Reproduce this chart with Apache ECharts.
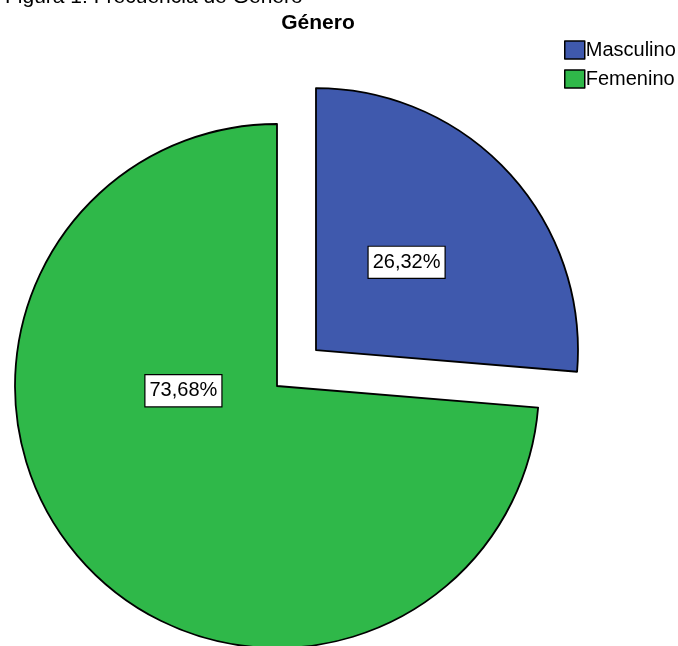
<!DOCTYPE html>
<html><head><meta charset="utf-8">
<script src="https://cdn.jsdelivr.net/npm/echarts@6/dist/echarts.min.js"></script>
<style>html,body{margin:0;padding:0;background:#fff}#c{width:678px;height:646px}</style>
</head><body><div id="c"></div>
<script>
const categories = ['Masculino', 'Femenino'];
const counts = [5, 14];
const colors = ['#3F59AD', '#2FB849'];
const labelOffsets = [[-8, 3], [5, -86]];

const chart = echarts.init(document.getElementById('c'));
chart.setOption({
  animation: false,
  title: [
    { text: 'Figura 1: Frecuencia de Género', left: 0, top: -18,
      textStyle: { fontFamily: 'Liberation Sans', fontSize: 21, fontWeight: 'normal', color: '#000' } },
    { text: 'Género', left: 313, textAlign: 'center', top: 8,
      textStyle: { fontFamily: 'Liberation Sans', fontSize: 21, fontWeight: 'bold', color: '#000' } }
  ],
  legend: {
    orient: 'vertical', left: 559, top: 35, itemGap: 9,
    itemWidth: 20, itemHeight: 18, icon: 'rect',
    itemStyle: { borderColor: '#000', borderWidth: 1.5 },
    textStyle: { fontFamily: 'Liberation Sans', fontSize: 20, color: '#000', padding: [0, 0, 0, -4] },
    selectedMode: false,
    data: categories
  },
  series: [{
    type: 'pie',
    center: [277, 386],
    radius: 262,
    startAngle: 90,
    clockwise: true,
    selectedMode: 'single',
    selectedOffset: 53,
    avoidLabelOverlap: false,
    itemStyle: { borderColor: '#000', borderWidth: 1.8 },
    emphasis: { disabled: true },
    label: {
      show: true, position: 'inside',
      fontFamily: 'Liberation Sans', fontSize: 20, color: '#000',
      backgroundColor: '#fff', borderColor: '#000', borderWidth: 1.2,
      padding: [6, 4, 5, 4],
      formatter: p => p.percent.toFixed(2).replace('.', ',') + '%'
    },
    labelLine: { show: false },
    data: categories.map((n, i) => ({
      name: n, value: counts[i], selected: i === 0,
      itemStyle: { color: colors[i] },
      label: { offset: labelOffsets[i] },
      select: { label: { offset: labelOffsets[i] } }
    }))
  }]
});
</script></body></html>
